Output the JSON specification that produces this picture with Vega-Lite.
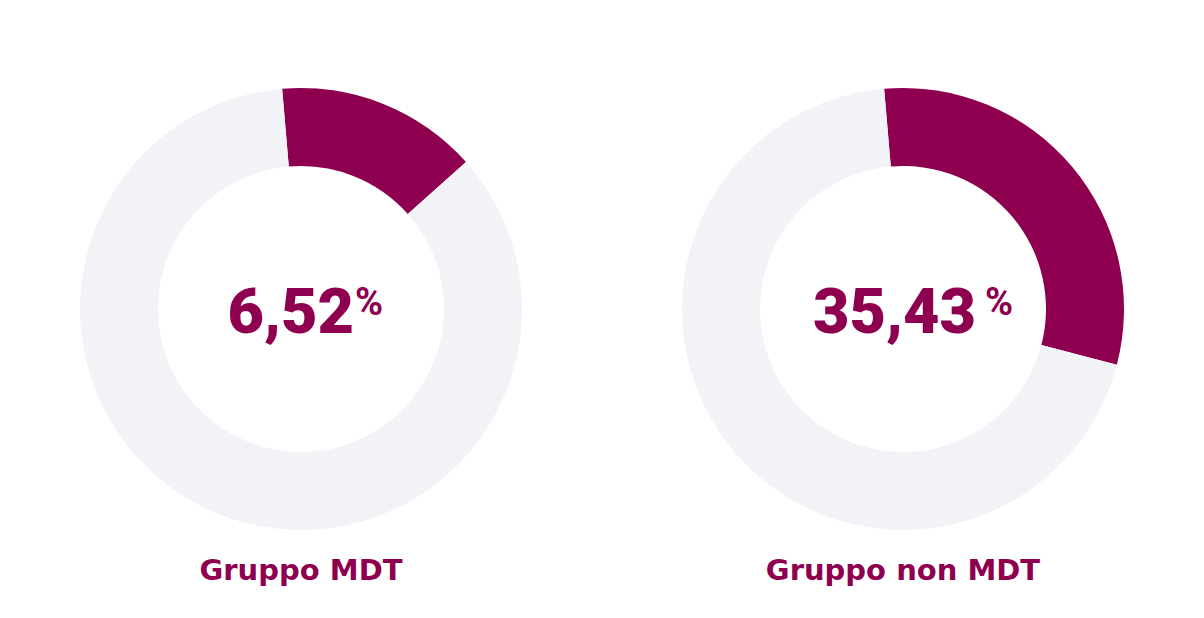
{
  "$schema": "https://vega.github.io/schema/vega-lite/v6.json",
  "padding": 0,
  "spacing": 0,
  "background": "#ffffff",
  "config": {"view": {"stroke": null}, "concat": {"spacing": 0}},
  "datasets": {
    "arcs": [
      {"group": "Gruppo MDT", "segment": "highlight", "value": 53.2},
      {"group": "Gruppo MDT", "segment": "rest", "value": 306.8},
      {"group": "Gruppo non MDT", "segment": "highlight", "value": 109.5},
      {"group": "Gruppo non MDT", "segment": "rest", "value": 250.5}
    ],
    "labels": [
      {"group": "Gruppo MDT", "pct": "6,52"},
      {"group": "Gruppo non MDT", "pct": "35,43"}
    ]
  },
  "hconcat": [
    {
      "width": 602,
      "height": 618,
      "layer": [
        {
          "data": {"name": "arcs"},
          "transform": [{"filter": "datum.group === 'Gruppo MDT'"}],
          "mark": {"type": "arc", "outerRadius": 221, "innerRadius": 143},
          "encoding": {
            "theta": {"field": "value", "type": "quantitative", "stack": true, "scale": {"range": [-0.0855, 6.1977]}},
            "color": {"field": "segment", "type": "nominal", "scale": {"domain": ["highlight", "rest"], "range": ["#8E004F", "#F2F3F7"]}, "legend": null}
          }
        },
        {
          "data": {"name": "labels"},
          "transform": [{"filter": "datum.group === 'Gruppo MDT'"}],
          "mark": {"type": "text", "font": "Roboto", "fontWeight": 900, "fontSize": 63, "color": "#8E004F", "align": "right", "baseline": "alphabetic", "dx": 53, "dy": 24},
          "encoding": {"text": {"field": "pct"}}
        },
        {
          "data": {"name": "labels"},
          "transform": [{"filter": "datum.group === 'Gruppo MDT'"}],
          "mark": {"type": "text", "font": "Roboto", "fontWeight": "bold", "fontSize": 38, "color": "#8E004F", "align": "left", "baseline": "alphabetic", "dx": 54, "dy": 6, "text": "%"},
          "encoding": {}
        },
        {
          "data": {"name": "labels"},
          "transform": [{"filter": "datum.group === 'Gruppo MDT'"}],
          "mark": {"type": "text", "font": "DejaVu Sans", "fontWeight": "bold", "fontSize": 29, "color": "#8E004F", "align": "center", "baseline": "alphabetic", "dy": 271},
          "encoding": {"text": {"field": "group"}}
        }
      ]
    },
    {
      "width": 602,
      "height": 618,
      "layer": [
        {
          "data": {"name": "arcs"},
          "transform": [{"filter": "datum.group === 'Gruppo non MDT'"}],
          "mark": {"type": "arc", "outerRadius": 221, "innerRadius": 143},
          "encoding": {
            "theta": {"field": "value", "type": "quantitative", "stack": true, "scale": {"range": [-0.0855, 6.1977]}},
            "color": {"field": "segment", "type": "nominal", "scale": {"domain": ["highlight", "rest"], "range": ["#8E004F", "#F2F3F7"]}, "legend": null}
          }
        },
        {
          "data": {"name": "labels"},
          "transform": [{"filter": "datum.group === 'Gruppo non MDT'"}],
          "mark": {"type": "text", "font": "Roboto", "fontWeight": 900, "fontSize": 63, "color": "#8E004F", "align": "right", "baseline": "alphabetic", "dx": 73, "dy": 24},
          "encoding": {"text": {"field": "pct"}}
        },
        {
          "data": {"name": "labels"},
          "transform": [{"filter": "datum.group === 'Gruppo non MDT'"}],
          "mark": {"type": "text", "font": "Roboto", "fontWeight": "bold", "fontSize": 38, "color": "#8E004F", "align": "left", "baseline": "alphabetic", "dx": 82, "dy": 6, "text": "%"},
          "encoding": {}
        },
        {
          "data": {"name": "labels"},
          "transform": [{"filter": "datum.group === 'Gruppo non MDT'"}],
          "mark": {"type": "text", "font": "DejaVu Sans", "fontWeight": "bold", "fontSize": 29, "color": "#8E004F", "align": "center", "baseline": "alphabetic", "dy": 271},
          "encoding": {"text": {"field": "group"}}
        }
      ]
    }
  ]
}
